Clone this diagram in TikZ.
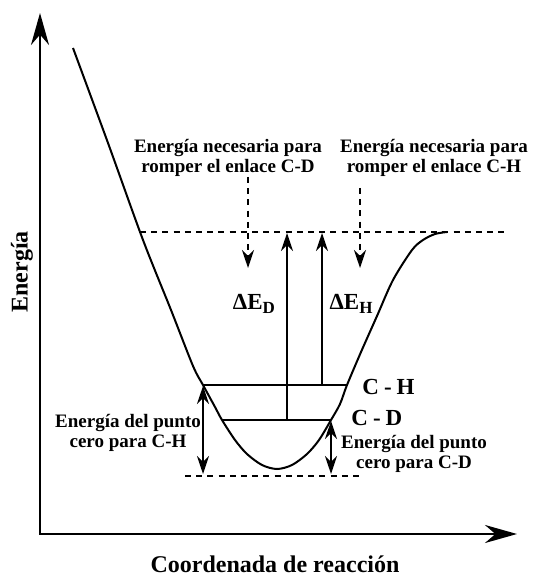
\documentclass[tikz,border=0pt]{standalone}
\usepackage{fontspec}
\setmainfont{Liberation Serif}
\usetikzlibrary{arrows.meta, positioning}

\newcommand{\lowsub}[1]{\raisebox{-0.45ex}{\fontsize{8.5}{9}\selectfont #1}}

\begin{document}
\begin{tikzpicture}[x=0.5pt,y=-0.5pt,>={Stealth[length=9pt,width=6pt]},axis/.style={{Stealth[length=16pt,width=9pt]}-{Stealth[length=16pt,width=9pt]}, line width=1.2pt, line join=miter},curve/.style={line width=1pt},level/.style={line width=1pt},arrowline/.style={line width=0.9pt},guide/.style={dash pattern=on 3pt off 2.6pt, line width=1pt},label/.style={font=\bfseries\fontsize{9.5}{10}\selectfont, align=center, inner sep=0pt},axislabel/.style={font=\bfseries\fontsize{12}{14}\selectfont, inner sep=0pt},levellabel/.style={font=\bfseries\fontsize{11.5}{13}\selectfont, inner sep=0pt}]
\useasboundingbox (0,0) rectangle (534,576);
% axes
\coordinate (O) at (40,534); \coordinate (ytop) at (40,13); \coordinate (xend) at (517,534);
\draw[axis] (ytop) -- (O) -- (xend);
\node[axislabel, rotate=90] (energia) at (22,272) {Energía};
\node[axislabel] (coord) at (275,564) {Coordenada de reacción};
% potential curve
\draw[curve] plot[smooth, tension=0.5] coordinates {(73,48) (108,143) (143,240) (171,310) (193,366) (203,385) (215,407) (222,420) (235,440) (247,454) (262,465) (277,469) (292,465) (307,454) (319,440) (331,420) (340,404) (347,385) (361,352) (377,316) (393,280) (412,250) (423,240) (435,234) (447,232)};
% guide lines
\coordinate (top1) at (140,232); \coordinate (top2) at (505,232);
\coordinate (bot1) at (185,476); \coordinate (bot2) at (360,476);
\draw[guide] (top1) -- (top2);
\draw[guide] (bot1) -- (bot2);
% zero point levels
\coordinate (chL) at (203,385); \coordinate (chR) at (347,385);
\coordinate (cdL) at (222,420); \coordinate (cdR) at (331,420);
\draw[level] (chL) -- (chR);
\draw[level] (cdL) -- (cdR);
\node[levellabel, anchor=west] (chlab) at (362,387) {C\kern2.5pt-\kern2.5pt H};
\node[levellabel, anchor=west] (cdlab) at (351,418) {C\kern2.5pt-\kern2.5pt D};
% dissociation arrows
\coordinate (cdM) at (287,420); \coordinate (chM) at (322,385);
\coordinate (topD) at (287,233); \coordinate (topH) at (322,233);
\draw[arrowline, ->] (cdM) -- (topD);
\draw[arrowline, ->] (chM) -- (topH);
\node[levellabel] (dED) at (254,304) {ΔE\lowsub{D}};
\node[levellabel] (dEH) at (351,304) {ΔE\lowsub{H}};
% zero point arrows
\coordinate (zpHt) at (203,386); \coordinate (zpHb) at (203,474);
\coordinate (zpDt) at (331,421); \coordinate (zpDb) at (331,474);
\draw[arrowline, <->] (zpHt) -- (zpHb);
\draw[arrowline, <->] (zpDt) -- (zpDb);
\node[label] (zpH) at (128,433) {Energía del punto\\cero para C-H};
\node[label] (zpD) at (414,454) {Energía del punto\\cero para C-D};
% captions on top
\node[label] (necD) at (228,158) {Energía necesaria para\\romper el enlace C-D};
\node[label] (necH) at (434,158) {Energía necesaria para\\romper el enlace C-H};
\coordinate (gD1) at (248,177); \coordinate (gD2) at (248,268);
\coordinate (gH1) at (360,188); \coordinate (gH2) at (360,268);
\draw[guide, ->] (gD1) -- (gD2);
\draw[guide, ->] (gH1) -- (gH2);
\end{tikzpicture}
\end{document}
